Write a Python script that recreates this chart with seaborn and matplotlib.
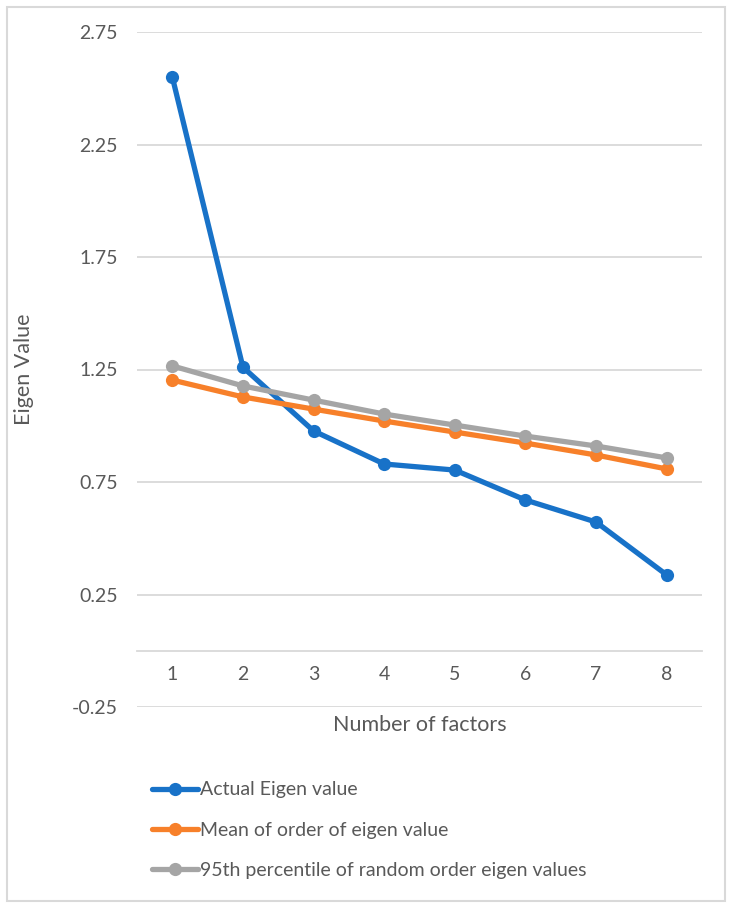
import matplotlib
matplotlib.use("Agg")
import matplotlib.pyplot as plt
from matplotlib.patches import Rectangle
import seaborn as sbn
import pandas as pd

# values
factors = [1, 2, 3, 4, 5, 6, 7, 8]
actual_eigen = [2.55, 1.26, 0.977, 0.83, 0.803, 0.67, 0.572, 0.337]
mean_eigen = [1.203, 1.128, 1.074, 1.021, 0.972, 0.923, 0.870, 0.808]
pct95_eigen = [1.266, 1.177, 1.114, 1.052, 1.003, 0.954, 0.910, 0.857]
series_names = ["Actual Eigen value",
                "Mean of order of eigen value",
                "95th percentile of random order eigen values"]
y_ticks = [-0.25, 0.25, 0.75, 1.25, 1.75, 2.25, 2.75]

df = pd.DataFrame({
    "factor": factors * 3,
    "value": actual_eigen + mean_eigen + pct95_eigen,
    "series": [series_names[0]] * 8 + [series_names[1]] * 8 + [series_names[2]] * 8,
})

sbn.set_style("white")
plt.rcParams["font.family"] = ["Lato", "DejaVu Sans"]
text_col = "#595959"
grid_col = "#D9D9D9"
palette = {series_names[0]: "#1872C8",
           series_names[1]: "#F7802A",
           series_names[2]: "#A5A5A5"}

fig = plt.figure(figsize=(7.35, 9.08), dpi=100)
ax = fig.add_axes([137 / 735, 1 - 707 / 908, 565 / 735, 675 / 908])

sbn.lineplot(data=df, x="factor", y="value", hue="series", hue_order=series_names,
             palette=palette, marker="o", markersize=9.5, markeredgewidth=0,
             linewidth=3.8, ax=ax, legend=True)

ax.set_xlim(0.5, 8.5)
ax.set_ylim(-0.25, 2.75)
ax.set_yticks(y_ticks)
ax.set_yticklabels([f"{t:.2f}" for t in y_ticks])
ax.set_xticks(factors)
ax.set_xticklabels([str(f) for f in factors])
ax.yaxis.grid(True, color=grid_col, linewidth=1.3)
ax.set_axisbelow(True)
for s in ["top", "right", "left"]:
    ax.spines[s].set_visible(False)
ax.spines["bottom"].set_position(("data", 0))
ax.spines["bottom"].set_color(grid_col)
ax.spines["bottom"].set_linewidth(1.3)
ax.tick_params(axis="both", length=0, labelsize=14, colors=text_col)
ax.tick_params(axis="y", pad=14)
ax.tick_params(axis="x", pad=11)

ax.set_xlabel("Number of factors", fontsize=15.5, color=text_col)
ax.xaxis.set_label_coords(0.5, -0.012)
ax.set_ylabel("Eigen Value", fontsize=15.5, color=text_col)
ax.yaxis.set_label_coords(-0.183, 0.5)

handles, labels = ax.get_legend_handles_labels()
ax.get_legend().remove()
leg = fig.legend(handles, labels, loc="upper left",
                 bbox_to_anchor=(134 / 735, 1 - 764 / 908),
                 frameon=False, fontsize=14, handlelength=2.4,
                 handletextpad=0.1, labelspacing=1.2)
for t in leg.get_texts():
    t.set_color(text_col)

fig.patches.append(Rectangle((7 / 735, 7 / 908), 718 / 735, 894 / 908,
                             transform=fig.transFigure, fill=False,
                             edgecolor=grid_col, linewidth=1.5))

fig.savefig("out.png", dpi=100, facecolor="white")
